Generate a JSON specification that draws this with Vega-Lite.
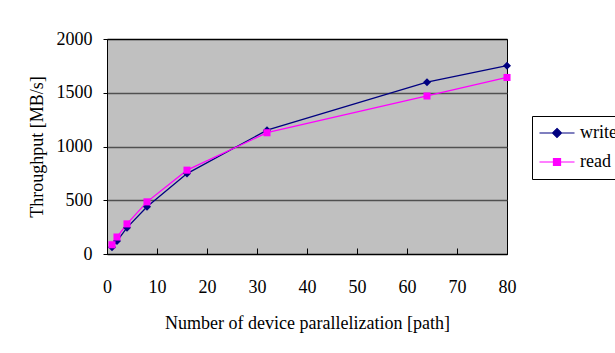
{
  "$schema": "https://vega.github.io/schema/vega-lite/v6.json",
  "width": 400,
  "height": 215,
  "autosize": "none",
  "padding": {"left": 107, "top": 39, "right": 108, "bottom": 99},
  "background": "white",
  "config": {
    "font": "Liberation Serif",
    "view": {"fill": "#c0c0c0", "stroke": "black", "strokeWidth": 1}
  },
  "data": {
    "values": [
      {"x": 1, "series": "write", "y": 62},
      {"x": 2, "series": "write", "y": 120},
      {"x": 4, "series": "write", "y": 245},
      {"x": 8, "series": "write", "y": 440},
      {"x": 16, "series": "write", "y": 748},
      {"x": 32, "series": "write", "y": 1152},
      {"x": 64, "series": "write", "y": 1598},
      {"x": 80, "series": "write", "y": 1752},
      {"x": 1, "series": "read", "y": 86},
      {"x": 2, "series": "read", "y": 158},
      {"x": 4, "series": "read", "y": 280},
      {"x": 8, "series": "read", "y": 485},
      {"x": 16, "series": "read", "y": 780},
      {"x": 32, "series": "read", "y": 1128},
      {"x": 64, "series": "read", "y": 1470},
      {"x": 80, "series": "read", "y": 1642}
    ]
  },
  "encoding": {
    "x": {
      "field": "x", "type": "quantitative",
      "scale": {"domain": [0, 80], "nice": false, "zero": false},
      "axis": {
        "title": "Number of device parallelization [path]",
        "values": [0, 10, 20, 30, 40, 50, 60, 70, 80],
        "format": "d",
        "grid": false,
        "tickSize": -6, "tickColor": "black", "tickWidth": 1,
        "domainColor": "black", "domainWidth": 1,
        "labelFontSize": 18, "labelColor": "black", "labelPadding": 30, "labelAngle": 0,
        "labelFlush": false,
        "titleFontSize": 18, "titleColor": "black", "titleFontWeight": "normal", "titlePadding": 18
      }
    },
    "y": {
      "field": "y", "type": "quantitative",
      "scale": {"domain": [0, 2000], "nice": false},
      "axis": {
        "title": "Throughput [MB/s]",
        "values": [0, 500, 1000, 1500, 2000],
        "format": "d",
        "grid": true,
        "gridColor": {"condition": {"test": "datum.value === 0 || datum.value === 2000", "value": "black"}, "value": "#505050"},
        "gridWidth": 1.3,
        "tickSize": 4, "tickColor": "black",
        "domainColor": "black",
        "labelFontSize": 18, "labelColor": "black", "labelPadding": 11,
        "labelFlush": false,
        "titleFontSize": 18, "titleColor": "black", "titleFontWeight": "normal", "titlePadding": 10
      }
    },
    "color": {
      "field": "series", "type": "nominal",
      "scale": {"domain": ["write", "read"], "range": ["#000080", "#FF00FF"]},
      "legend": {
        "orient": "none", "legendX": 425, "legendY": 77,
        "title": null,
        "strokeColor": "black", "fillColor": "white",
        "padding": 8,
        "rowPadding": 11,
        "labelFont": "Liberation Serif", "labelFontSize": 18, "labelColor": "black",
        "symbolSize": 256,
        "symbolOffset": 8,
        "labelOffset": 14,
        "symbolStrokeWidth": 1.2,
        "encode": {
          "symbols": {
            "update": {
              "shape": {"signal": "datum.value === 'write' ? 'M-2.19,0L2.19,0M0,-0.56L0.56,0L0,0.56L-0.56,0Z' : 'M-2.19,0L2.19,0M-0.44,-0.44L0.44,-0.44L0.44,0.44L-0.44,0.44Z'"},
              "fill": {"scale": "color", "field": "value"},
              "stroke": {"scale": "color", "field": "value"},
              "opacity": {"value": 1},
              "fillOpacity": {"value": 1}
            }
          }
        }
      }
    }
  },
  "layer": [
    {
      "mark": {"type": "line", "strokeWidth": 1.3}
    },
    {
      "transform": [{"filter": "datum.series === 'write'"}],
      "mark": {"type": "point", "shape": "diamond", "filled": true, "opacity": 1, "size": 64}
    },
    {
      "transform": [{"filter": "datum.series === 'read'"}],
      "mark": {"type": "point", "shape": "square", "filled": true, "opacity": 1, "size": 50}
    }
  ]
}
